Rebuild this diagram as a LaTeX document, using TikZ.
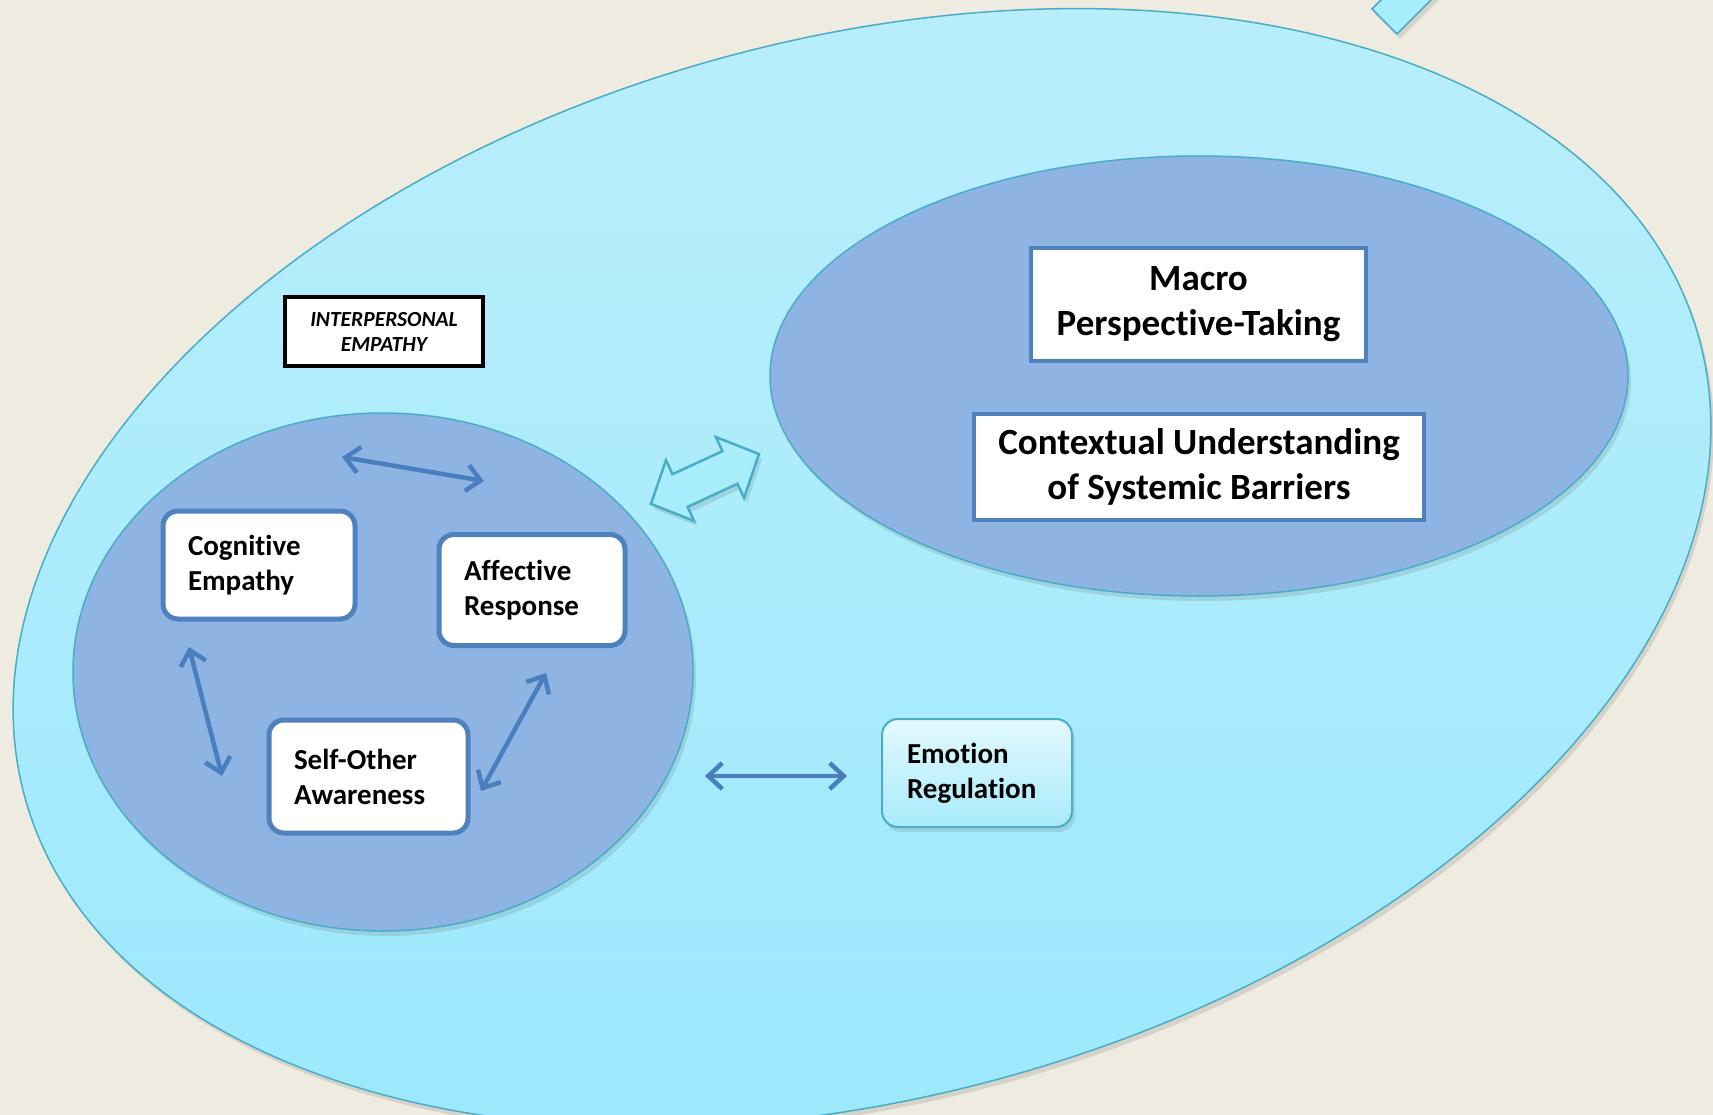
\documentclass[tikz,border=0pt]{standalone}
\usepackage{fontspec}
\setmainfont{Carlito}[Ligatures={NoCommon,NoRare,NoContextual}]
\usetikzlibrary{arrows.meta,shadows}
\definecolor{bg}{HTML}{EEEBE0}
\definecolor{outtop}{HTML}{B8EEFC}
\definecolor{outbot}{HTML}{9AE8FC}
\definecolor{tealc}{HTML}{4BACC6}
\definecolor{innerc}{HTML}{8EB4E3}
\definecolor{boxblue}{HTML}{4F81BD}
\definecolor{arrc}{HTML}{4A7EBF}
\definecolor{emotop}{HTML}{E3F8FE}
\definecolor{emobot}{HTML}{A9EBFB}
\definecolor{barrow}{HTML}{A8EDFB}
\begin{document}
\begin{tikzpicture}[x=1pt,y=-1pt,
  smallbox/.style={draw=boxblue, line width=5pt, fill=white, rounded corners=15pt,
    font=\bfseries\fontsize{29}{35}\selectfont, align=left, inner xsep=25pt, inner ysep=0pt},
  bigbox/.style={draw=boxblue, line width=4.5pt, fill=white,
    font=\bfseries\fontsize{37}{45}\selectfont, align=center, inner sep=0pt},
  link/.style={draw=arrc, line width=4.5pt, {Straight Barb[length=14pt,width=26pt]}-{Straight Barb[length=14pt,width=26pt]}},
  softshadow/.style={drop shadow={shadow xshift=3pt, shadow yshift=-5pt, opacity=0.18, fill=black!60}}
]
\useasboundingbox (0,0) rectangle (1713,1115);
\clip (0,0) rectangle (1713,1115);
\fill[bg] (0,0) rectangle (1713,1115);

% top-right fragment of a block arrow
\draw[fill=barrow, draw=tealc, line width=1.5pt, softshadow]
  (1372,9) -- (1397,34) -- (1450,-19) -- (1425,-44) -- cycle;

% outer ellipse
\draw[draw=tealc, line width=1.5pt, top color=outtop, bottom color=outbot, softshadow]
  [rotate around={15.3:(862,568)}] (862,568) ellipse [x radius=868, y radius=529];

% inner ellipses
\draw[draw=tealc, line width=1.5pt, fill=innerc, softshadow]
  (1199,376) ellipse [x radius=429, y radius=220];
\draw[draw=tealc, line width=1.5pt, fill=innerc, softshadow]
  (383,672) ellipse [x radius=310, y radius=259];

% block double arrow between the ellipses
\begin{scope}[shift={(705,479)}, rotate=24.8]
\draw[fill=barrow, draw=tealc, line width=2.5pt, line join=miter, softshadow]
  (-59.5,0) -- (-27.5,-33.5) -- (-27.5,-18) -- (27.5,-18) -- (27.5,-33.5)
  -- (59.5,0) -- (27.5,33.5) -- (27.5,18) -- (-27.5,18) -- (-27.5,33.5) -- cycle;
\end{scope}

% label
\node[draw=black, line width=4.5pt, fill=white, minimum width=198pt, minimum height=69pt,
  inner sep=0pt, align=center, font=\bfseries\itshape\fontsize{21.5}{25}\selectfont]
  (ip) at (384,331.5) {INTERPERSONAL\\EMPATHY};

% big boxes
\node[bigbox, minimum width=335pt, minimum height=113pt] (macro) at (1198.5,304.5)
  {Macro\\Perspective-Taking};
\node[bigbox, minimum width=450pt, minimum height=106pt] (context) at (1199,467)
  {Contextual Understanding\\of Systemic Barriers};

% small boxes
\node[smallbox, text width=142pt, minimum height=108pt] (cog) at (259,565)
  {Cognitive\\Empathy};
\node[smallbox, text width=136pt, minimum height=111pt] (aff) at (532,590)
  {Affective\\Response};
\node[smallbox, text width=149pt, minimum height=113pt] (self) at (368.5,776.5)
  {Self-Other\\Awareness};
\node[draw=tealc, line width=2pt, rounded corners=16pt, top color=emotop, bottom color=emobot,
  font=\bfseries\fontsize{29}{35}\selectfont, align=left, inner xsep=25pt, inner ysep=0pt,
  text width=140pt, minimum height=108pt, softshadow] (emo) at (977,773)
  {Emotion\\Regulation};

% connector end points
\coordinate (t1) at (342,457);
\coordinate (t2) at (484,481);
\coordinate (l1) at (189,647);
\coordinate (l2) at (222,776);
\coordinate (r1) at (546,673);
\coordinate (r2) at (481,791);
\coordinate (e1) at (705,776);
\coordinate (e2) at (847,776);

\draw[link] (t1) -- (t2);
\draw[link] (l1) -- (l2);
\draw[link] (r1) -- (r2);
\draw[link] (e1) -- (e2);
\end{tikzpicture}
\end{document}
